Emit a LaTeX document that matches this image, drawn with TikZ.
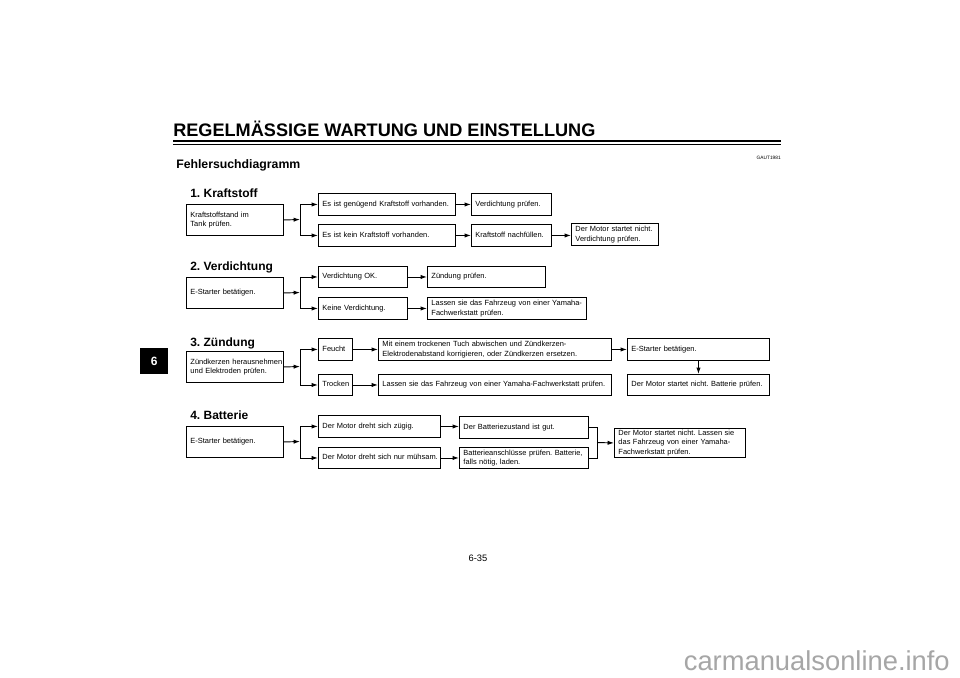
\documentclass[tikz,border=0pt]{standalone}
\usepackage{fontspec}
\setmainfont{Liberation Sans}
\usetikzlibrary{arrows.meta,calc}
\frenchspacing
\begin{document}
\begin{tikzpicture}[x=0.75pt,y=-0.75pt,
  bx/.style={draw=black, line width=0.7pt, anchor=north west, inner xsep=3pt, inner ysep=0pt,
    align=left, font=\fontsize{5.6}{7.4}\selectfont},
  ln/.style={draw=black, line width=0.7pt},
  arr/.style={ln, -{Latex[length=4.8pt,width=3.2pt]}},
  hdr/.style={anchor=base west, inner sep=0pt, font=\bfseries\fontsize{9}{11}\selectfont}]
\newcommand\bx[6]{%
  \pgfmathsetmacro\bw{(#4-#2)*0.75-6}%
  \pgfmathsetmacro\bh{(#5-#3)*0.75}%
  \node[bx, text width=\bw pt, minimum height=\bh pt] (#1) at (#2,#3)
    {\renewcommand\arraystretch{0.95}\setlength\tabcolsep{0pt}\begin{tabular}{@{}l@{}}#6\end{tabular}};}
\useasboundingbox (0,0) rectangle (960,678);
\fill[white] (0,0) rectangle (960,678);
% header
\node[anchor=base west, inner sep=0pt, font=\bfseries\fontsize{13.6}{16}\selectfont] (title) at (173,136) {REGELMÄSSIGE WARTUNG UND EINSTELLUNG};
\coordinate (hl) at (173,140.5);
\coordinate (hr) at (781,140.5);
\draw[line width=1.5pt] (hl) -- (hr);
\draw[line width=0.6pt] ($(hl)+(0,3.5)$) -- ($(hr)+(0,3.5)$);
\node[anchor=base west, inner sep=0pt, font=\bfseries\fontsize{9.2}{11}\selectfont] (sub) at (176,168) {Fehlersuchdiagramm};
\node[anchor=base east, inner sep=0pt, font=\fontsize{3.6}{4}\selectfont] (code) at (781,159) {GAUT1981};
\node[fill=black, minimum width=21pt, minimum height=19.5pt, inner sep=0pt, anchor=north west, text=white, font=\bfseries\fontsize{9}{11}\selectfont] (tab) at (140,348) {6};
\node[inner sep=0pt, font=\fontsize{7}{8}\selectfont] (page) at (478,558) {6-35};
\node[anchor=base east, inner sep=0pt, text=black!35, font=\fontsize{20.5}{24}\selectfont] (wm) at (950,670) {carmanualsonline.info};

% 1. Kraftstoff
\node[hdr] (h1) at (190,197) {1. Kraftstoff};
\bx{a1}{186}{204}{283}{235}{Kraftstoffstand im\\Tank prüfen.}
\bx{b1}{318}{193}{455}{215}{Es ist genügend Kraftstoff vorhanden.}
\bx{b2}{318}{224}{455}{246}{Es ist kein Kraftstoff vorhanden.}
\bx{c1}{471}{193}{551}{215}{Verdichtung prüfen.}
\bx{c2}{471}{224}{551}{246}{Kraftstoff nachfüllen.}
\bx{d2}{571}{223}{658}{245}{Der Motor startet nicht.\\Verdichtung prüfen.}
\coordinate (s1) at (300,219.5);
\draw[arr] (a1.east) -- (s1);
\draw[ln] (s1 |- b1.west) -- (s1 |- b2.west);
\draw[arr] (s1 |- b1.west) -- (b1.west);
\draw[arr] (s1 |- b2.west) -- (b2.west);
\draw[arr] (b1.east) -- (c1.west);
\draw[arr] (b2.east) -- (c2.west);
\draw[arr] (c2.east) -- (c2.east -| d2.west);

% 2. Verdichtung
\node[hdr] (h2) at (190,270) {2. Verdichtung};
\bx{a2}{186}{277}{283}{308}{E-Starter betätigen.}
\bx{v1}{318}{266}{407}{287}{Verdichtung OK.}
\bx{v2}{318}{297}{407}{319}{Keine Verdichtung.}
\bx{w1}{427}{266}{545}{287}{Zündung prüfen.}
\bx{w2}{427}{297}{586}{319}{Lassen sie das Fahrzeug von einer Yamaha-\\Fachwerkstatt prüfen.}
\coordinate (s2) at (300,292.5);
\draw[arr] (a2.east) -- (s2);
\draw[ln] (s2 |- v1.west) -- (s2 |- v2.west);
\draw[arr] (s2 |- v1.west) -- (v1.west);
\draw[arr] (s2 |- v2.west) -- (v2.west);
\draw[arr] (v1.east) -- (w1.west);
\draw[arr] (v2.east) -- (w2.west);

% 3. Zündung
\node[hdr] (h3) at (190,346) {3. Zündung};
\bx{a3}{186}{351}{283}{382}{Zündkerzen herausnehmen\\und Elektroden prüfen.}
\bx{f3}{318}{338}{352}{360}{Feucht}
\bx{t3}{318}{374}{352}{395}{Trocken}
\bx{m3}{378}{338}{611}{360}{Mit einem trockenen Tuch abwischen und Zündkerzen-\\Elektrodenabstand korrigieren, oder Zündkerzen ersetzen.}
\bx{l3}{378}{374}{611}{395}{Lassen sie das Fahrzeug von einer Yamaha-Fachwerkstatt prüfen.}
\bx{e3}{627}{338}{769}{360}{E-Starter betätigen.}
\bx{n3}{627}{374}{769}{395}{Der Motor startet nicht. Batterie prüfen.}
\coordinate (s3) at (300,366.5);
\draw[arr] (a3.east) -- (s3);
\draw[ln] (s3 |- f3.west) -- (s3 |- t3.west);
\draw[arr] (s3 |- f3.west) -- (f3.west);
\draw[arr] (s3 |- t3.west) -- (t3.west);
\draw[arr] (f3.east) -- (m3.west);
\draw[arr] (t3.east) -- (l3.west);
\draw[arr] (m3.east) -- (e3.west);
\draw[arr] (e3.south) -- (n3.north);

% 4. Batterie
\node[hdr] (h4) at (190,419) {4. Batterie};
\bx{a4}{186}{426}{283}{457}{E-Starter betätigen.}
\bx{g4}{318}{415}{440}{437}{Der Motor dreht sich zügig.}
\bx{k4}{318}{447}{440}{468}{Der Motor dreht sich nur mühsam.}
\bx{z4}{459}{416}{588}{438}{Der Batteriezustand ist gut.}
\bx{p4}{459}{447}{588}{468}{Batterieanschlüsse prüfen. Batterie,\\falls nötig, laden.}
\bx{q4}{614}{428}{745}{457}{Der Motor startet nicht. Lassen sie\\das Fahrzeug von einer Yamaha-\\Fachwerkstatt prüfen.}
\coordinate (s4) at (300,441.5);
\draw[arr] (a4.east) -- (s4);
\draw[ln] (s4 |- g4.west) -- (s4 |- k4.west);
\draw[arr] (s4 |- g4.west) -- (g4.west);
\draw[arr] (s4 |- k4.west) -- (k4.west);
\draw[arr] (g4.east) -- (g4.east -| z4.west);
\draw[arr] (k4.east) -- (k4.east -| p4.west);
\coordinate (m4) at (597,442.5);
\draw[ln] (z4.east) -- (z4.east -| m4) -- (p4.east -| m4) -- (p4.east);
\draw[arr] (m4) -- (q4.west);
\end{tikzpicture}
\end{document}
